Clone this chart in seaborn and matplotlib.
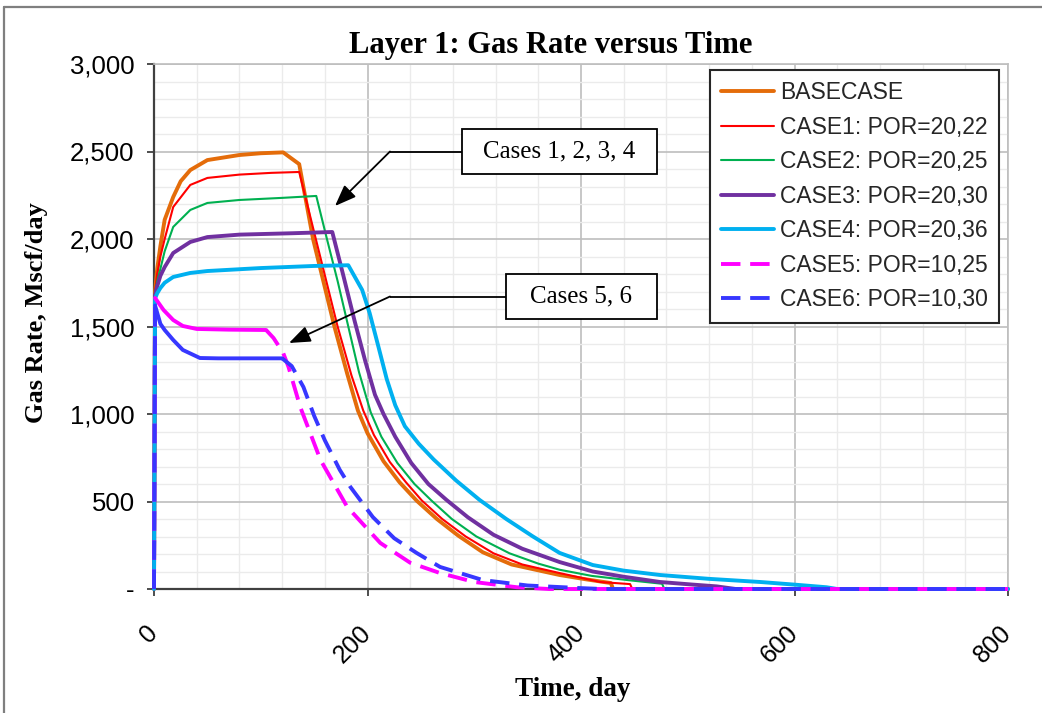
import matplotlib
matplotlib.use("Agg")
import matplotlib.pyplot as plt
from matplotlib.lines import Line2D
from matplotlib.patches import Rectangle
from matplotlib.ticker import MultipleLocator, FuncFormatter
import pandas as pd
import seaborn as sns

# ---- data -----------------------------------------------------------------
cases = ["BASECASE", "CASE1: POR=20,22", "CASE2: POR=20,25", "CASE3: POR=20,30",
         "CASE4: POR=20,36", "CASE5: POR=10,25", "CASE6: POR=10,30"]

base_t = [0, 1, 3, 6, 10, 18, 25, 34, 50, 80, 100, 121, 136, 149, 169, 181, 191, 200,
          215, 230, 246, 265, 285, 308, 335, 380, 405, 428, 430, 800]
base_rate = [0, 1700, 1830, 1960, 2110, 2240, 2330, 2394, 2451, 2480, 2490, 2495, 2428,
             2000, 1500, 1230, 1020, 890, 730, 610, 505, 400, 305, 210, 140, 80, 55, 34, 0, 0]

case1_t = [0, 1, 3, 6, 10, 18, 34, 50, 80, 110, 136, 152, 172, 185, 196, 206, 221, 236,
           251, 270, 292, 318, 345, 380, 418, 446, 448, 800]
case1_rate = [0, 1700, 1800, 1900, 2000, 2183, 2309, 2349, 2368, 2378, 2383, 1990, 1500,
              1220, 1020, 880, 725, 610, 505, 400, 300, 204, 140, 91, 40, 28, 0, 0]

case2_t = [0, 1, 3, 6, 10, 18, 34, 50, 80, 120, 152, 162, 172, 182, 192, 203, 213, 228,
           244, 260, 279, 302, 333, 360, 380, 410, 445, 476, 478, 800]
case2_rate = [0, 1690, 1760, 1830, 1930, 2069, 2166, 2206, 2223, 2235, 2246, 2000, 1760,
              1500, 1240, 1010, 870, 720, 600, 505, 400, 300, 204, 145, 110, 75, 50, 30, 0, 0]

case3_t = [0, 1, 3, 6, 10, 18, 34, 50, 80, 130, 167, 177, 188, 198, 207, 215, 226, 241,
           257, 274, 294, 318, 345, 380, 411, 440, 474, 505, 527, 545, 800]
case3_rate = [0, 1680, 1730, 1790, 1840, 1920, 1983, 2011, 2025, 2033, 2040, 1800, 1530,
              1300, 1110, 1000, 870, 720, 600, 509, 410, 310, 230, 154, 100, 70, 40, 25,
              15, 0, 0]

case4_t = [0, 1, 3, 6, 10, 18, 34, 50, 100, 150, 182, 195, 202, 210, 218, 226, 235, 248,
           262, 283, 305, 330, 355, 380, 411, 440, 474, 520, 568, 600, 630, 640, 800]
case4_rate = [0, 1660, 1690, 1720, 1750, 1783, 1806, 1817, 1834, 1846, 1850, 1709, 1577,
              1390, 1200, 1050, 930, 830, 740, 620, 509, 400, 300, 206, 137, 105, 80, 58,
              40, 25, 10, 0, 0]

case5_t = [0, 1, 9, 18, 27, 40, 70, 105, 112, 121, 126, 137, 156, 181, 212, 240, 268,
           300, 340, 370, 800]
case5_rate = [0, 1663, 1594, 1537, 1503, 1486, 1482, 1480, 1434, 1349, 1269, 1040, 737,
              469, 263, 150, 91, 40, 10, 0, 0]

case6_t = [0, 1, 6, 10, 18, 27, 43, 60, 120, 129, 140, 150, 160, 174, 184, 205, 225, 246,
           268, 308, 350, 400, 420, 800]
case6_rate = [0, 1620, 1515, 1480, 1423, 1366, 1320, 1318, 1318, 1274, 1154, 990, 850,
              681, 583, 411, 290, 206, 126, 51, 20, 5, 0, 0]

series_t = [base_t, case1_t, case2_t, case3_t, case4_t, case5_t, case6_t]
series_rate = [base_rate, case1_rate, case2_rate, case3_rate, case4_rate, case5_rate,
               case6_rate]

x_ticks = [0, 200, 400, 600, 800]
y_ticks = [0, 500, 1000, 1500, 2000, 2500, 3000]

# ---- styles ---------------------------------------------------------------
colors = ["#E46C0A", "#FF0000", "#00B050", "#7030A0", "#00B0F0", "#FF00FF", "#3737FF"]
widths = [2.8, 1.5, 1.5, 2.8, 2.8, 2.8, 2.8]
dashed = [False, False, False, False, False, True, True]
# dashed series: the densely sampled early stretch renders as a continuous stroke
solid_span = [None, None, None, None, None, (1, 105), (1, 120)]
DASH = (5, 2.5)

palette = dict(zip(cases, colors))
size_map = dict(zip(cases, widths))


def pieces(case, t, r, is_dashed, span):
    """Split a series into stroke pieces (shared end points keep it continuous)."""
    frame = pd.DataFrame({"Time": t, "Rate": r})
    if not is_dashed:
        parts = [("solid", frame)]
    else:
        lo, hi = span
        parts = [("dashed", frame[frame.Time <= lo]),
                 ("solid", frame[(frame.Time >= lo) & (frame.Time <= hi)]),
                 ("dashed", frame[frame.Time >= hi])]
    out = []
    for k, (stroke, p) in enumerate(parts):
        p = p.copy()
        p["Case"] = case
        p["Stroke"] = stroke
        p["Piece"] = f"{case}#{k}"
        out.append(p)
    return out


df = pd.concat(
    [p for c, t, r, d, s in zip(cases, series_t, series_rate, dashed, solid_span)
     for p in pieces(c, t, r, d, s)],
    ignore_index=True,
)

sns.set_theme(style="white")
plt.rcParams["font.family"] = ["Liberation Sans", "DejaVu Sans"]
plt.rcParams["lines.solid_joinstyle"] = "round"

W, H = 1042, 713
fig = plt.figure(figsize=(W / 100, H / 100), dpi=100)
ax = fig.add_axes([154 / W, 1 - 589 / H, (1008 - 154) / W, (589 - 64) / H])

sns.lineplot(data=df, x="Time", y="Rate", hue="Case", size="Case", style="Stroke",
             units="Piece", hue_order=cases, size_order=cases,
             style_order=["solid", "dashed"],
             palette=palette, sizes=size_map, dashes={"solid": "", "dashed": DASH},
             estimator=None, sort=False, legend=False, ax=ax)
for ln in ax.get_lines():
    ln.set_zorder(3)
    ln.set_clip_on(False)

ax.set_xlim(0, 800)
ax.set_ylim(0, 3000)
ax.xaxis.set_minor_locator(MultipleLocator(40))
ax.yaxis.set_minor_locator(MultipleLocator(100))
ax.set_xticks(x_ticks)
ax.set_yticks(y_ticks)
ax.yaxis.set_major_formatter(FuncFormatter(lambda v, p: "-" if v == 0 else f"{int(v):,}"))

ax.set_axisbelow(True)
ax.grid(which="major", color="#BEBEBE", lw=1.2)
ax.grid(which="minor", color="#EBEBEB", lw=1.0)

for side in ("left", "bottom"):
    ax.spines[side].set_color("#404040")
    ax.spines[side].set_linewidth(1.6)
for side in ("top", "right"):
    ax.spines[side].set_color("#BEBEBE")
    ax.spines[side].set_linewidth(1.2)

ax.tick_params(which="major", direction="out", length=5, width=1.3, color="#404040",
               labelcolor="black")
ax.tick_params(which="minor", length=0)
ax.tick_params(axis="x", pad=24, bottom=True, labelsize=18)
ax.tick_params(axis="y", pad=9, left=True, labelsize=18.5)
for lab in ax.get_xticklabels():
    lab.set_rotation(45)
    lab.set_ha("right")
    lab.set_va("center")
    lab.set_rotation_mode("anchor")

serif = ["Liberation Serif", "DejaVu Serif"]
ax.set_xlabel("Time, day", family=serif, fontsize=19.5, fontweight="bold", color="black")
ax.set_ylabel("Gas Rate, Mscf/day", family=serif, fontsize=19, fontweight="bold",
              color="black")
ax.xaxis.set_label_coords((573 - 154) / 854, (589 - 677) / 525)
ax.yaxis.set_label_coords((48 - 154) / 854, (589 - 313) / 525)
ax.set_title("Layer 1: Gas Rate versus Time", family=serif, fontsize=22,
             fontweight="bold", color="black", x=(551 - 154) / 854,
             y=(589 - 53) / 525, pad=0)

# legend
handles = []
for c, w, d in zip(colors, widths, dashed):
    h = Line2D([], [], color=c, lw=w)
    if d:
        h.set_dashes(DASH)
    handles.append(h)
leg = ax.legend(handles, cases, loc="upper right",
                bbox_to_anchor=((999 - 154) / 854, (589 - 70) / 525),
                borderaxespad=0, frameon=True, fancybox=False, framealpha=1,
                edgecolor="#262626", fontsize=16.5, handlelength=2.3,
                handletextpad=0.25, labelspacing=0.5, borderpad=0.5)
leg.get_frame().set_linewidth(1.5)
leg.set_zorder(6)

# annotation call-outs
def px_to_data(x, y):
    return (x - 154) / 854 * 800, (589 - y) / 525 * 3000

callouts = [
    ("Cases 1, 2, 3, 4", (462, 129, 657, 174), (390, 151.5), (335, 206)),
    ("Cases 5, 6", (506, 274, 657, 319), (390, 296.5), (289, 343)),
]
for text, (x0, y0, x1, y1), corner, tip in callouts:
    bx0, by1 = px_to_data(x0, y0)
    bx1, by0 = px_to_data(x1, y1)
    ax.add_patch(Rectangle((bx0, by0), bx1 - bx0, by1 - by0, facecolor="white",
                           edgecolor="black", lw=1.3, zorder=7, clip_on=False))
    ax.text((bx0 + bx1) / 2, (by0 + by1) / 2, text, family=serif, fontsize=18,
            ha="center", va="center", color="black", zorder=8)
    cx, cy = px_to_data(*corner)
    lx, ly = px_to_data(x0, (y0 + y1) / 2)
    ax.plot([lx, cx], [ly, cy], color="black", lw=1.3, zorder=7, solid_capstyle="butt")
    tx, ty = px_to_data(*tip)
    ax.annotate("", xy=(tx, ty), xytext=(cx, cy), zorder=7,
                arrowprops=dict(arrowstyle="-|>,head_length=0.65,head_width=0.25",
                                mutation_scale=20, color="black", lw=1.3,
                                shrinkA=0, shrinkB=0))

# outer frame of the chart area
fig.add_artist(Line2D([4 / W, 1], [1 - 7 / H, 1 - 7 / H], transform=fig.transFigure,
                      color="#7F7F7F", lw=1.6))
fig.add_artist(Line2D([4 / W, 4 / W], [0, 1 - 7 / H], transform=fig.transFigure,
                      color="#7F7F7F", lw=1.6))

fig.savefig("out.png", dpi=100, facecolor="white")
